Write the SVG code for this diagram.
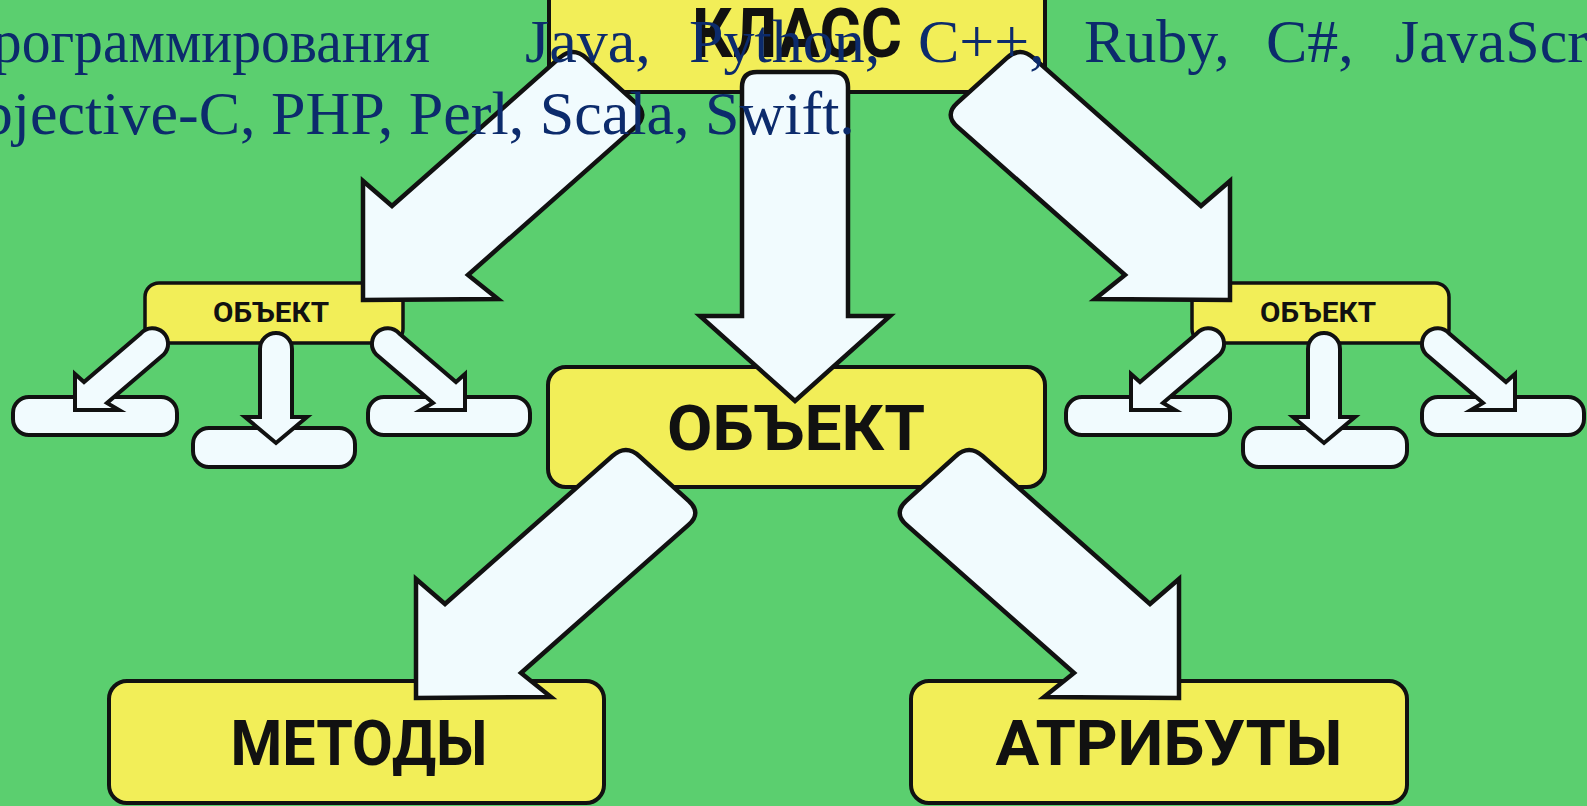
<svg xmlns="http://www.w3.org/2000/svg" xmlns:xlink="http://www.w3.org/1999/xlink" width="1587" height="806" viewBox="0 0 1587 806">
<style>
.box{fill:#F2EE58;stroke:#111;stroke-width:4}
.sbox{fill:#F2EE58;stroke:#111;stroke-width:3.5}
.pill{fill:#F1FBFE;stroke:#111;stroke-width:4}
.arr{fill:#F1FBFE;stroke:#111;stroke-width:4.5;stroke-linejoin:miter}
.sarr{fill:#F1FBFE;stroke:#111;stroke-width:4;stroke-linejoin:miter}
.lbl{font-family:Roboto,"Liberation Sans",sans-serif;font-weight:700;fill:#111;text-anchor:middle}
.ov{font-family:"Liberation Serif","Times New Roman",serif;font-size:62px;fill:#0C2B6C}
</style>
<defs>
<path id="bigArrow" d="M0,0 L0,-119 L29,-94 L196.5,-242.1 Q210,-254 223.3,-241.9 L272.7,-197.1 Q286,-185 272.5,-173.1 L105,-25 L135,-1 Z"/>
<path id="smallArrow" d="M0,0 L0,-36 L9,-28 L66,-76.8 A15.5,15.5 0 0 1 89,-55.8 L32,-7 L44,0 Z"/>
</defs>
<rect x="0" y="0" width="1587" height="806" fill="#5BCF6F"/>

<g id="node-klass">
<rect class="box" x="549" y="-20" width="496" height="112" rx="15"/>
<text class="lbl" x="797" y="57" font-size="68" textLength="210" lengthAdjust="spacingAndGlyphs">КЛАСС</text>
</g>
<g id="node-obj-left">
<rect class="sbox" x="145" y="283" width="258" height="60" rx="14"/>
<text class="lbl" x="271" y="322" font-size="28" textLength="116" lengthAdjust="spacingAndGlyphs">ОБЪЕКТ</text>
</g>
<g id="node-obj-right">
<rect class="sbox" x="1192" y="283" width="257" height="60" rx="14"/>
<text class="lbl" x="1318" y="322" font-size="28" textLength="116" lengthAdjust="spacingAndGlyphs">ОБЪЕКТ</text>
</g>
<g id="node-obj-main">
<rect class="box" x="548" y="367" width="497" height="120" rx="18"/>
<text class="lbl" x="796" y="450" font-size="63" textLength="258" lengthAdjust="spacingAndGlyphs">ОБЪЕКТ</text>
</g>
<g id="node-pill-l1"><rect class="pill" x="13" y="397" width="164" height="38" rx="16"/></g>
<g id="node-pill-l2"><rect class="pill" x="193" y="428" width="162" height="39" rx="16"/></g>
<g id="node-pill-l3"><rect class="pill" x="368" y="397" width="162" height="38" rx="16"/></g>
<g id="node-pill-r1"><rect class="pill" x="1066" y="397" width="164" height="38" rx="16"/></g>
<g id="node-pill-r2"><rect class="pill" x="1243" y="428" width="164" height="39" rx="16"/></g>
<g id="node-pill-r3"><rect class="pill" x="1422" y="397" width="162" height="38" rx="16"/></g>
<g id="node-methods">
<rect class="box" x="109" y="681" width="495" height="122" rx="18"/>
<text class="lbl" x="359" y="765" font-size="63" textLength="257" lengthAdjust="spacingAndGlyphs">МЕТОДЫ</text>
</g>
<g id="node-attrs">
<rect class="box" x="911" y="681" width="496" height="122" rx="18"/>
<text class="lbl" x="1169" y="765" font-size="63" textLength="347" lengthAdjust="spacingAndGlyphs">АТРИБУТЫ</text>
</g>

<g id="connectors">
<use class="arr" href="#bigArrow" xlink:href="#bigArrow" transform="translate(363,300)"/>
<use class="arr" href="#bigArrow" xlink:href="#bigArrow" transform="translate(1230,300) scale(-1,1)"/>
<path class="arr" d="M742,316 L742,87 Q742,72 757,72 L833,72 Q848,72 848,87 L848,316 L890,316 L795,401 L700,316 Z"/>
<use class="arr" href="#bigArrow" xlink:href="#bigArrow" transform="translate(416,698)"/>
<use class="arr" href="#bigArrow" xlink:href="#bigArrow" transform="translate(1179,698) scale(-1,1)"/>
<use class="sarr" href="#smallArrow" xlink:href="#smallArrow" transform="translate(75,410)"/>
<path class="sarr" d="M260,417 L260,349 A16,16 0 0 1 292,349 L292,417 L307,417 L276,443 L245,417 Z"/>
<use class="sarr" href="#smallArrow" xlink:href="#smallArrow" transform="translate(465,410) scale(-1,1)"/>
<use class="sarr" href="#smallArrow" xlink:href="#smallArrow" transform="translate(1131,410)"/>
<path class="sarr" d="M1308,417 L1308,349 A16,16 0 0 1 1340,349 L1340,417 L1355,417 L1324,443 L1293,417 Z"/>
<use class="sarr" href="#smallArrow" xlink:href="#smallArrow" transform="translate(1515,410) scale(-1,1)"/>
</g>

<g id="overlay-text">
<text class="ov" y="62"><tspan x="-38" textLength="468" lengthAdjust="spacingAndGlyphs">программирования</tspan><tspan x="525">Java,</tspan><tspan x="689">Python,</tspan><tspan x="918">C++,</tspan><tspan x="1084">Ruby,</tspan><tspan x="1266">C#,</tspan><tspan x="1395">JavaScript,</tspan></text>
<text class="ov" x="-63" y="134">Objective-C, PHP, Perl, Scala, Swift.</text>
</g>
</svg>
